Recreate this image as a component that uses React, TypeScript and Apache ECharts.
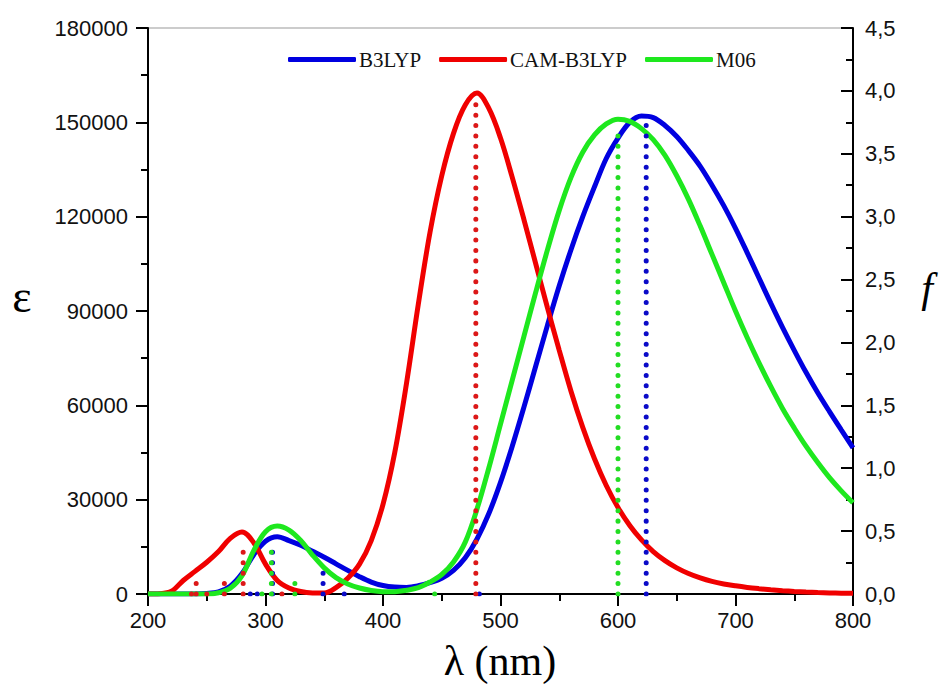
import React, { useEffect, useRef } from "react";
import * as echarts from "echarts";

const wavelengths = [
  200, 210, 220, 230, 240, 250, 260, 270, 280, 290, 300, 310, 320, 330, 340, 350, 360, 370, 380, 390,
  400, 410, 420, 430, 440, 450, 460, 470, 480, 490, 500, 510, 520, 530, 540, 550, 560, 570, 580, 590,
  600, 610, 620, 630, 640, 650, 660, 670, 680, 690, 700, 710, 720, 730, 740, 750, 760, 770, 780, 790, 800,
];

const b3lyp = [
  0, 0, 0, 0, 0, 150, 700, 2500, 6500, 12500, 16800, 18200, 17000, 15500, 13600, 11700, 9600, 7500, 5500, 3800,
  2700, 2200, 2100, 2600, 3600, 5000, 7500, 11500, 17500, 25500, 35500, 47000, 59500, 72500, 85500, 98000, 109500, 120000, 129500, 138500,
  145000, 150000, 152000, 151500, 149000, 145500, 141000, 136000, 130000, 123500, 116300, 108500, 100500, 92500, 84800, 77500, 70500, 64000, 58000, 52200, 46500,
];

const camB3lyp = [
  0, 100, 900, 4300, 7200, 10100, 13500, 17700, 19700, 16300, 9500, 4300, 1900, 800, 350, 300, 2000, 5000, 9500, 17000,
  28500, 45000, 67000, 92000, 115000, 133000, 146500, 155500, 159300, 154500, 145000, 132500, 119000, 105000, 91000, 77500, 64500, 53000, 43000, 34500,
  27500, 21800, 17200, 13500, 10600, 8300, 6500, 5100, 4000, 3200, 2600, 2100, 1700, 1350, 1050, 800, 600, 450, 350, 250, 200,
];

const m06 = [
  0, 0, 0, 0, 0, 0, 400, 1800, 5800, 13800, 19800, 21600, 20300, 17000, 12400, 8300, 5200, 3200, 1900, 1100,
  750, 750, 1200, 2000, 3800, 6200, 10200, 16500, 27000, 40000, 54000, 68000, 82000, 96000, 109500, 122000, 132500, 140500, 146000, 149500,
  151000, 150300, 148000, 144500, 139500, 133000, 125500, 117000, 108000, 99000, 90000, 81500, 73500, 66000, 59000, 52800, 47000, 41800, 37000, 32800, 29000,
];

// oscillator strengths (stick spectra, right axis)
const b3lypStickWl = [287, 293, 306, 349, 367, 482, 624];
const b3lypStickF = [0.02, 0.02, 0.39, 0.17, 0.03, 0.02, 3.74];
const camStickWl = [237, 241, 250, 265, 281, 314, 479];
const camStickF = [0.02, 0.09, 0.02, 0.1, 0.38, 0.02, 3.93];
const m06StickWl = [297, 305, 325, 444, 600];
const m06StickF = [0.02, 0.38, 0.13, 0.02, 3.7];

const seriesNames = ["B3LYP", "CAM-B3LYP", "M06"];
const curveColors = ["#0000e0", "#f00000", "#1ee81e"];
const stickColors = ["#0a0ac8", "#dc1818", "#22dd22"];

export default function App() {
  const ref = useRef<HTMLDivElement>(null);
  useEffect(() => {
    const chart = echarts.init(ref.current!, null, { renderer: "svg" });
    const curves = [b3lyp, camB3lyp, m06];
    const stickWl = [b3lypStickWl, camStickWl, m06StickWl];
    const stickF = [b3lypStickF, camStickF, m06StickF];

    const series: any[] = [];
    curves.forEach((vals, k) => {
      series.push({
        name: seriesNames[k],
        type: "line",
        xAxisIndex: 0,
        yAxisIndex: 0,
        smooth: 0.35,
        symbol: "none",
        data: wavelengths.map((w, i) => [w, vals[i]]),
        lineStyle: { color: curveColors[k], width: 5 },
        itemStyle: { color: curveColors[k] },
        z: 2,
      });
    });
    stickWl.forEach((wls, k) => {
      wls.forEach((w, j) => {
        series.push({
          name: seriesNames[k] + " f" + j,
          type: "line",
          yAxisIndex: 1,
          symbol: "none",
          data: [
            [w, 0],
            [w, stickF[k][j]],
          ],
          lineStyle: { color: stickColors[k], width: 5, type: [0.01, 10.4], cap: "round" },
          z: 3,
        });
      });
    });

    const labelFont = { fontFamily: "Liberation Sans", fontSize: 22, color: "#111" };
    const axisLineStyle = { color: "#000", width: 2 };

    chart.setOption({
      animation: false,
      backgroundColor: "#fff",
      grid: {
        left: 148,
        right: 98,
        top: 28,
        bottom: 97,
        show: true,
        borderColor: "#999",
        borderWidth: 1,
      },
      legend: {
        data: seriesNames,
        left: 283,
        top: 44,
        itemWidth: 68,
        itemHeight: 5,
        itemGap: 18,
        icon: "roundRect",
        textStyle: { fontFamily: "Liberation Serif", fontSize: 21, color: "#111", padding: [0, 0, 0, -2] },
      },
      xAxis: {
        type: "value",
        min: 200,
        max: 800,
        interval: 100,
        axisLine: { show: true, lineStyle: axisLineStyle },
        axisTick: { show: true, length: 12, lineStyle: { color: "#000", width: 2 } },
        minorTick: { show: true, splitNumber: 2, length: 7, lineStyle: { color: "#000", width: 2 } },
        splitLine: { show: false },
        axisLabel: { ...labelFont, margin: 15 },
      },
      yAxis: [
        {
          type: "value",
          min: 0,
          max: 180000,
          interval: 30000,
          position: "left",
          axisLine: { show: true, lineStyle: axisLineStyle },
          axisTick: { show: true, length: 12, lineStyle: { color: "#000", width: 2 } },
          minorTick: { show: true, splitNumber: 2, length: 7, lineStyle: { color: "#000", width: 2 } },
          splitLine: { show: false },
          axisLabel: { ...labelFont, margin: 20, formatter: (v: number) => String(v) },
        },
        {
          type: "value",
          min: 0,
          max: 4.5,
          interval: 0.5,
          position: "right",
          axisLine: { show: true, lineStyle: axisLineStyle },
          axisTick: { show: true, inside: true, length: 12, lineStyle: { color: "#000", width: 2 } },
          minorTick: { show: true, splitNumber: 2, length: 7, lineStyle: { color: "#000", width: 2 } },
          splitLine: { show: false },
          axisLabel: {
            ...labelFont,
            margin: 12,
            formatter: (v: number) => v.toFixed(1).replace(".", ","),
          },
        },
      ],
      graphic: [
        {
          type: "text",
          x: 22,
          y: 296,
          style: {
            text: "ε",
            font: '46px "Liberation Serif"',
            fill: "#000",
            align: "center",
            verticalAlign: "middle",
          },
        },
        {
          type: "text",
          x: 927,
          y: 288,
          style: {
            text: "f",
            font: 'italic 42px "Liberation Serif"',
            fill: "#000",
            align: "center",
            verticalAlign: "middle",
          },
        },
        {
          type: "text",
          x: 500,
          y: 661,
          style: {
            text: "λ (nm)",
            font: '42px "Liberation Serif"',
            fill: "#000",
            align: "center",
            verticalAlign: "middle",
          },
        },
      ],
      series,
    });
    return () => chart.dispose();
  }, []);
  return (
    <div
      ref={ref}
      style={{ position: "fixed", left: 0, top: 0, width: 951, height: 691 }}
    />
  );
}
